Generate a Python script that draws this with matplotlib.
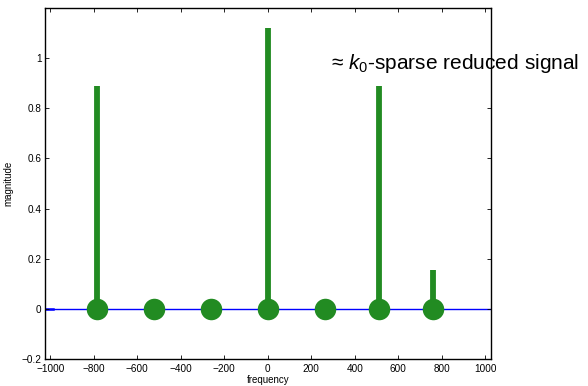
import matplotlib
matplotlib.use("Agg")
import matplotlib.pyplot as plt
import numpy as np

plt.rcParams['font.family'] = ['Liberation Sans', 'DejaVu Sans']
plt.rcParams['mathtext.fontset'] = 'custom'
plt.rcParams['mathtext.rm'] = 'Liberation Sans'
plt.rcParams['mathtext.it'] = 'Liberation Sans:italic'

# data
freqs = [-785, -522, -261, 0, 262, 511, 757]
mags = [0.89, 0.0, 0.0, 1.12, 0.0, 0.89, 0.155]
xticks = [-1000, -800, -600, -400, -200, 0, 200, 400, 600, 800, 1000]
yticks = [-0.2, 0, 0.2, 0.4, 0.6, 0.8, 1]
green = "#228B22"

fig = plt.figure(figsize=(5.88, 3.86), dpi=100)
ax = fig.add_axes([0.0765, 0.07, 0.758, 0.909])

ax.plot([-1024, 1024], [0, 0], color="blue", linewidth=1.0, zorder=1)
ax.plot([-1024, -985], [0, 0], color="blue", linewidth=1.8, zorder=1)
ax.vlines(freqs, 0, mags, color=green, linewidth=4.2, zorder=2)
ax.plot(freqs, np.zeros(len(freqs)), "o", color=green, markersize=15.5,
        markeredgewidth=0, zorder=3)

ax.set_xlim(-1024, 1024)
ax.set_ylim(-0.2, 1.2)
ax.set_xticks(xticks)
ax.set_yticks(yticks)
ax.set_yticklabels(["\u22120.2", "0", "0.2", "0.4", "0.6", "0.8", "1"])
ax.tick_params(direction="in", length=3, width=0.6, labelsize=7.2,
               top=True, right=True)
ax.tick_params(axis="x", pad=3.5)
ax.tick_params(axis="y", pad=2.5)
for s in ax.spines.values():
    s.set_linewidth(1.0)

ax.set_xlabel("frequency", fontsize=7, labelpad=1)
ax.set_ylabel("magnitude", fontsize=7, labelpad=6)

ax.text(292, 0.98, "\u2248 $k_0$-sparse reduced signal", fontsize=15,
        ha="left", va="center", clip_on=False)
fig.savefig("out.png", dpi=100)
